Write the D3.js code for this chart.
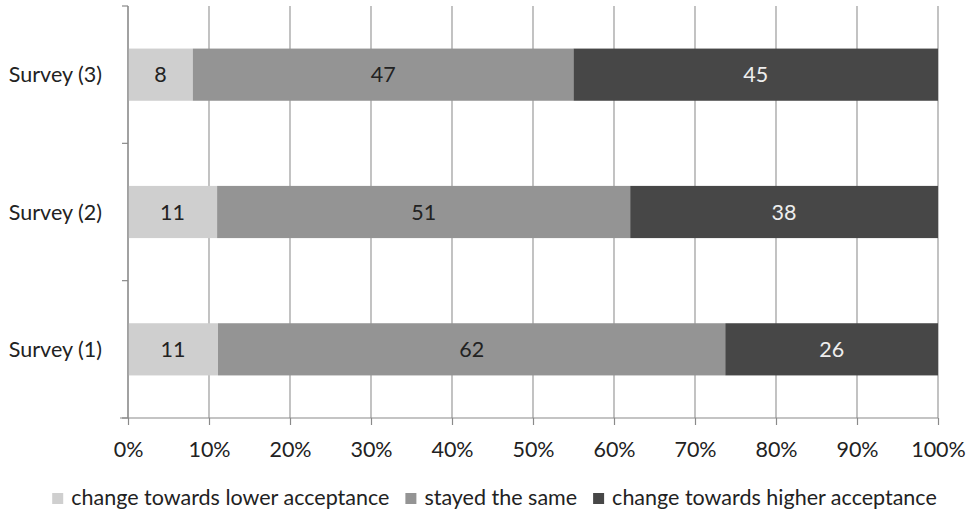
<!DOCTYPE html>
<html>
<head>
<meta charset="utf-8">
<script src="https://cdn.jsdelivr.net/npm/d3@7"></script>
<style>
  body { margin: 0; background: #fff; }
  svg text { font-family: Lato, "Open Sans", sans-serif; fill: #222; }
</style>
</head>
<body>
<svg id="chart" width="973" height="513"></svg>
<script>
// Survey responses (percent of respondents), bottom to top on the chart
const surveys = ["Survey (1)", "Survey (2)", "Survey (3)"];
const lowerAcceptance = [11, 11, 8];
const stayedSame = [62, 51, 47];
const higherAcceptance = [26, 38, 45];
const seriesNames = ["change towards lower acceptance", "stayed the same", "change towards higher acceptance"];
const seriesColors = ["#cfcfcf", "#949494", "#474747"];
const labelColors = ["#222", "#222", "#eeeeee"];
const xTicks = [0, 0.1, 0.2, 0.3, 0.4, 0.5, 0.6, 0.7, 0.8, 0.9, 1.0];

const fontSize = "21.5px";
const svg = d3.select("#chart");
const margin = { left: 128, right: 35, top: 6, bottom: 95 };
const width = 973 - margin.left - margin.right;
const height = 513 - margin.top - margin.bottom;
const g = svg.append("g").attr("transform", `translate(${margin.left},${margin.top})`);

const x = d3.scaleLinear().domain([0, 1]).range([0, width]);
// Survey (3) at top
const y = d3.scaleBand().domain(surveys.slice().reverse()).range([0, height]).paddingInner(0.62).paddingOuter(0.31);

// Vertical gridlines
g.selectAll(".grid").data(xTicks).join("line")
  .attr("x1", d => x(d)).attr("x2", d => x(d))
  .attr("y1", 0).attr("y2", height)
  .attr("stroke", "#9a9a9a").attr("stroke-width", 1.2);

// 100% stacked bars: each row normalized by its total
const rows = surveys.map((s, i) => {
  const vals = [lowerAcceptance[i], stayedSame[i], higherAcceptance[i]];
  const total = d3.sum(vals);
  let acc = 0;
  return vals.map((v, k) => {
    const seg = { survey: s, k, value: v, x0: acc / total, x1: (acc + v) / total };
    acc += v;
    return seg;
  });
}).flat();

g.selectAll(".seg").data(rows).join("rect")
  .attr("x", d => x(d.x0))
  .attr("width", d => x(d.x1) - x(d.x0))
  .attr("y", d => y(d.survey))
  .attr("height", y.bandwidth())
  .attr("fill", d => seriesColors[d.k]);

g.selectAll(".val").data(rows).join("text")
  .attr("x", d => x((d.x0 + d.x1) / 2))
  .attr("y", d => y(d.survey) + y.bandwidth() / 2)
  .attr("dy", "0.36em")
  .attr("text-anchor", "middle")
  .style("font-size", fontSize)
  .style("fill", d => labelColors[d.k])
  .text(d => d.value);

// Y axis with category boundary ticks
const boundaries = [0, height / 3, 2 * height / 3, height];
g.append("line").attr("x1", 0).attr("x2", 0).attr("y1", 0).attr("y2", height)
  .attr("stroke", "#8a8a8a").attr("stroke-width", 1.2);
g.selectAll(".ytick").data(boundaries).join("line")
  .attr("x1", -6).attr("x2", 0).attr("y1", d => d).attr("y2", d => d)
  .attr("stroke", "#8a8a8a").attr("stroke-width", 1.2);
g.selectAll(".ylab").data(surveys).join("text")
  .attr("x", -26)
  .attr("y", d => y(d) + y.bandwidth() / 2)
  .attr("dy", "0.36em")
  .attr("text-anchor", "end")
  .style("font-size", fontSize)
  .text(d => d);

// X axis
const xAxis = g.append("g").attr("transform", `translate(0,${height})`)
  .call(d3.axisBottom(x).tickValues(xTicks).tickFormat(d3.format(".0%")).tickSize(7).tickPadding(17));
xAxis.select(".domain").attr("stroke", "#8a8a8a").attr("stroke-width", 1.2).attr("d", `M-8,0H${width}`);
xAxis.selectAll(".tick line").attr("stroke", "#8a8a8a").attr("stroke-width", 1.2);
xAxis.selectAll(".tick text").style("font-size", fontSize).style("font-family", "Lato, 'Open Sans', sans-serif").attr("fill", "#222");

// Legend, centred below the axis
const legend = svg.append("g").attr("transform", "translate(0,505)");
const items = legend.selectAll(".item").data(seriesNames).join("g");
items.append("rect").attr("width", 11).attr("height", 11).attr("y", -12)
  .attr("fill", (d, i) => seriesColors[i]);
items.append("text").attr("x", 19).attr("y", 0)
  .style("font-size", fontSize).text(d => d);
const gap = 16;
let cx = 0;
const offsets = [];
items.each(function () {
  offsets.push(cx);
  const w = 19 + this.querySelector("text").getComputedTextLength();
  cx += w + gap;
});
const totalW = cx - gap;
const startX = 494.5 - totalW / 2;
items.attr("transform", (d, i) => `translate(${startX + offsets[i]},0)`);
</script>
</body>
</html>
